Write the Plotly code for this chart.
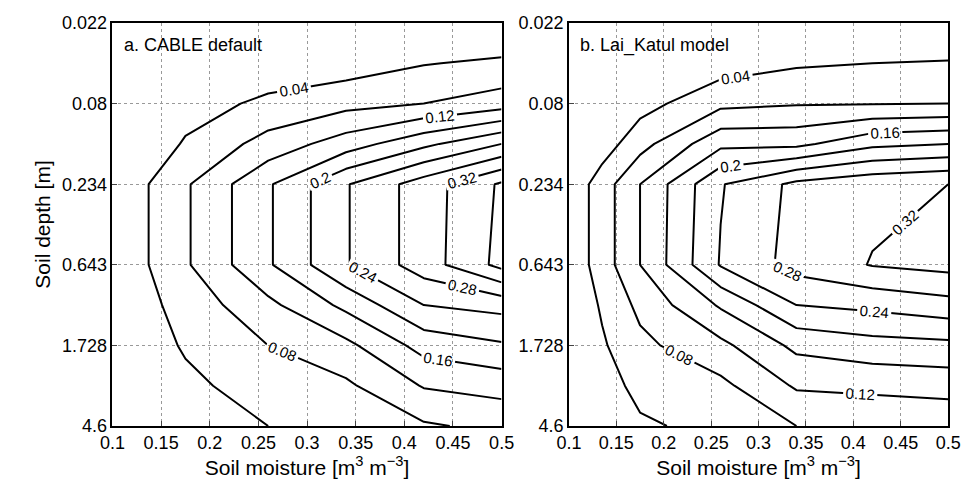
import plotly.graph_objects as go

moisture = [0.1, 0.135, 0.175, 0.26, 0.34, 0.42, 0.5]
depth_pos = [0, 0.5, 1, 1.5, 2, 3, 3.5, 4, 4.5, 5]
depth_ticks = [0, 1, 2, 3, 4, 5]
depth_labels = ["0.022", "0.08", "0.234", "0.643", "1.728", "4.6"]

z_cable = [
    [0, 0, 0, 0, 0, 0, 0],
    [0, 0, 0, 0.01, 0.02, 0.038, 0.047],
    [0, 0, 0.02, 0.05, 0.067, 0.08, 0.10],
    [0, 0.01, 0.045, 0.095, 0.14, 0.19, 0.24],
    [0, 0.038, 0.075, 0.155, 0.237, 0.30, 0.366],
    [0, 0.038, 0.075, 0.155, 0.237, 0.30, 0.372],
    [0, 0.03, 0.055, 0.11, 0.17, 0.24, 0.253],
    [0, 0.02, 0.045, 0.08, 0.11, 0.175, 0.195],
    [0, 0.01, 0.03, 0.06, 0.073, 0.123, 0.135],
    [0, 0, 0.02, 0.04, 0.05, 0.075, 0.09],
]
z_lai = [
    [0, 0, 0, 0, 0, 0, 0],
    [0, 0, 0.005, 0.02, 0.035, 0.04, 0.043],
    [0, 0, 0.025, 0.07, 0.077, 0.078, 0.08],
    [0, 0.02, 0.065, 0.15, 0.15, 0.19, 0.2],
    [0.01, 0.06, 0.12, 0.237, 0.29, 0.31, 0.32],
    [0.01, 0.06, 0.12, 0.243, 0.295, 0.322, 0.333],
    [0.005, 0.045, 0.09, 0.165, 0.24, 0.25, 0.265],
    [0.005, 0.035, 0.07, 0.11, 0.17, 0.185, 0.19],
    [0.005, 0.025, 0.05, 0.07, 0.125, 0.13, 0.135],
    [0.005, 0.015, 0.035, 0.05, 0.08, 0.085, 0.09],
]

FONT = "Liberation Sans, Arial, sans-serif"
fig = go.Figure()
for i, z in enumerate([z_cable, z_lai]):
    fig.add_trace(go.Contour(
        x=moisture, y=depth_pos, z=z,
        xaxis="x" if i == 0 else "x2", yaxis="y" if i == 0 else "y2",
        contours=dict(coloring="lines", start=0.04, end=0.36, size=0.04,
                      showlabels=True, labelfont=dict(size=15, color="black", family=FONT)),
        line=dict(color="black", width=2, smoothing=0), showscale=False,
        colorscale=[[0, "black"], [1, "black"]],
    ))

ax = dict(range=[0.1, 0.5], tickvals=[0.1 + 0.05 * k for k in range(9)],
          ticktext=["0.1", "0.15", "0.2", "0.25", "0.3", "0.35", "0.4", "0.45", "0.5"],
          showgrid=True, gridcolor="#999", griddash="dot", showline=True, mirror=True,
          linecolor="black", linewidth=1.5, ticks="inside", ticklen=5, zeroline=False,
          tickfont=dict(size=18, color="black", family=FONT),
          title=dict(text="Soil moisture [m<sup>3</sup> m<sup>−3</sup>]", font=dict(size=21, color="black", family=FONT), standoff=8))
ay = dict(range=[5, 0], tickvals=depth_ticks, ticktext=depth_labels,
          showgrid=True, gridcolor="#999", griddash="dot", showline=True, mirror=True,
          linecolor="black", linewidth=1.5, ticks="inside", ticklen=5, zeroline=False,
          tickfont=dict(size=18, color="black", family=FONT))

fig.update_layout(
    width=974, height=487, plot_bgcolor="white", paper_bgcolor="white",
    margin=dict(l=0, r=0, t=15, b=69),
    xaxis=dict(ax, domain=[0.0965, 0.507]),
    xaxis2=dict(ax, domain=[0.578, 0.978]),
    yaxis=dict(ay, domain=[0, 1], anchor="x",
               title=dict(text="Soil depth [m]", font=dict(size=21, color="black", family=FONT), standoff=6)),
    yaxis2=dict(ay, domain=[0, 1], anchor="x2"),
    showlegend=False,
    annotations=[
        dict(text="a. CABLE default", xref="x domain", yref="y domain", x=0.025, y=0.975,
             showarrow=False, xanchor="left", yanchor="top", font=dict(size=18, color="black", family=FONT)),
        dict(text="b. Lai_Katul model", xref="x2 domain", yref="y2 domain", x=0.025, y=0.975,
             showarrow=False, xanchor="left", yanchor="top", font=dict(size=18, color="black", family=FONT)),
    ],
)
fig.write_html("out.html")
